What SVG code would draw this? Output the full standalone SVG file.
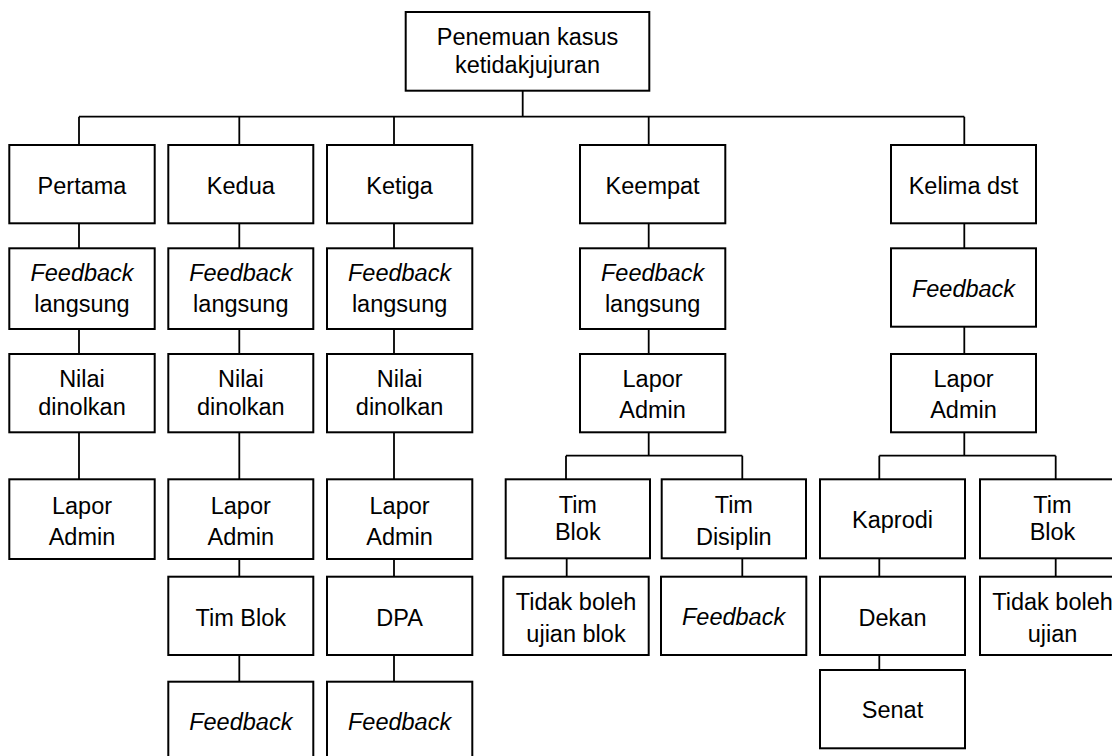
<svg xmlns="http://www.w3.org/2000/svg" width="1112" height="756" viewBox="0 0 1112 756">
<style>
rect{fill:#fff;stroke:#000;stroke-width:2}
#connectors path{fill:none;stroke:#000;stroke-width:1.8}
text{font-family:"Liberation Sans",Arial,sans-serif;font-size:23.5px;fill:#000;text-anchor:middle}
.i{font-style:italic}
</style>
<rect x="0" y="0" width="1112" height="756" style="stroke:none;fill:#fff"/>
<g id="connectors">
<path d="M522.7 90.7V116.7M79 116.7H964.3M79 116.7V145M239.3 116.7V145M394 116.7V145M648.7 116.7V145M964.3 116.7V145"/>
<path d="M79 223.3V248.3M79 329V354M79 432.3V479.3"/>
<path d="M239.3 223.3V248.3M239.3 329V354M239.3 432.3V479.3M239.3 559V576.7M239.3 655V681.7"/>
<path d="M394 223.3V248.3M394 329V354M394 432.3V479.3M394 559V576.7M394 655V681.7"/>
<path d="M648.7 223.3V248.3M648.7 329V354M648.7 432.3V455.7M566 455.7H742.3M566 455.7V479.3M742.3 455.7V479.3M566.7 558.3V576.7M742.3 558.3V576.7"/>
<path d="M964.3 223.3V248.3M964.3 326.7V354M964.3 432.3V455.7M879.3 455.7H1055.7M879.3 455.7V479.3M1055.7 455.7V479.3M879.3 558.3V576.7M879.3 655V670M1055.7 558.3V576.7"/>
</g>
<g id="root"><rect x="405.7" y="12" width="243.6" height="78.7"/><text x="527.5" y="44.5">Penemuan kasus</text><text x="527.5" y="72.5">ketidakjujuran</text></g>
<g id="pertama"><rect x="9.3" y="145" width="145.4" height="78.3"/><text x="82" y="194">Pertama</text></g>
<g id="kedua"><rect x="168.3" y="145" width="145" height="78.3"/><text x="240.8" y="194">Kedua</text></g>
<g id="ketiga"><rect x="327" y="145" width="145.3" height="78.3"/><text x="399.6" y="194">Ketiga</text></g>
<g id="keempat"><rect x="580" y="145" width="145.3" height="78.3"/><text x="652.6" y="194">Keempat</text></g>
<g id="kelima"><rect x="891" y="145" width="145" height="78.3"/><text x="963.5" y="194">Kelima dst</text></g>
<g id="fb1"><rect x="9.3" y="248.3" width="145.4" height="80.7"/><text x="82" y="280.7" class="i">Feedback</text><text x="82" y="311.7">langsung</text></g>
<g id="fb2"><rect x="168.3" y="248.3" width="145" height="80.7"/><text x="240.8" y="280.7" class="i">Feedback</text><text x="240.8" y="311.7">langsung</text></g>
<g id="fb3"><rect x="327" y="248.3" width="145.3" height="80.7"/><text x="399.6" y="280.7" class="i">Feedback</text><text x="399.6" y="311.7">langsung</text></g>
<g id="fb4"><rect x="580" y="248.3" width="145.3" height="80.7"/><text x="652.6" y="280.7" class="i">Feedback</text><text x="652.6" y="311.7">langsung</text></g>
<g id="fb5"><rect x="891" y="248.3" width="145" height="78.4"/><text x="963.5" y="296.7" class="i">Feedback</text></g>
<g id="nilai1"><rect x="9.3" y="354" width="145.4" height="78.3"/><text x="82" y="386.7">Nilai</text><text x="82" y="415">dinolkan</text></g>
<g id="nilai2"><rect x="168.3" y="354" width="145" height="78.3"/><text x="240.8" y="386.7">Nilai</text><text x="240.8" y="415">dinolkan</text></g>
<g id="nilai3"><rect x="327" y="354" width="145.3" height="78.3"/><text x="399.6" y="386.7">Nilai</text><text x="399.6" y="415">dinolkan</text></g>
<g id="lapor4"><rect x="580" y="354" width="145.3" height="78.3"/><text x="652.6" y="386.7">Lapor</text><text x="652.6" y="418.3">Admin</text></g>
<g id="lapor5"><rect x="891" y="354" width="145" height="78.3"/><text x="963.5" y="386.7">Lapor</text><text x="963.5" y="418.3">Admin</text></g>
<g id="lapor1"><rect x="9.3" y="479.3" width="145.4" height="79.7"/><text x="82" y="513.5">Lapor</text><text x="82" y="545">Admin</text></g>
<g id="lapor2"><rect x="168.3" y="479.3" width="145" height="79.7"/><text x="240.8" y="513.5">Lapor</text><text x="240.8" y="545">Admin</text></g>
<g id="lapor3"><rect x="327" y="479.3" width="145.3" height="79.7"/><text x="399.6" y="513.5">Lapor</text><text x="399.6" y="545">Admin</text></g>
<g id="timblok4"><rect x="505.7" y="479.3" width="144.3" height="79"/><text x="577.8" y="513">Tim</text><text x="577.8" y="540">Blok</text></g>
<g id="timdisiplin"><rect x="661.7" y="479.3" width="144.3" height="79"/><text x="733.8" y="513">Tim</text><text x="733.8" y="545">Disiplin</text></g>
<g id="kaprodi"><rect x="820" y="479.3" width="145" height="79"/><text x="892.5" y="528">Kaprodi</text></g>
<g id="timblok5"><rect x="980" y="479.3" width="145" height="79"/><text x="1052.5" y="513">Tim</text><text x="1052.5" y="540">Blok</text></g>
<g id="timblok2"><rect x="168.3" y="576.7" width="145" height="78.3"/><text x="240.8" y="626">Tim Blok</text></g>
<g id="dpa"><rect x="327" y="576.7" width="145.3" height="78.3"/><text x="399.6" y="626">DPA</text></g>
<g id="tidakboleh4"><rect x="503.3" y="576.7" width="145.4" height="78.3"/><text x="576" y="610">Tidak boleh</text><text x="576" y="641.7">ujian blok</text></g>
<g id="fb4b"><rect x="661" y="576.7" width="145.3" height="78.3"/><text x="733.6" y="625" class="i">Feedback</text></g>
<g id="dekan"><rect x="820" y="576.7" width="145" height="78.3"/><text x="892.5" y="626">Dekan</text></g>
<g id="tidakboleh5"><rect x="980" y="576.7" width="145" height="78.3"/><text x="1052.5" y="610">Tidak boleh</text><text x="1052.5" y="641.7">ujian</text></g>
<g id="fb2b"><rect x="168.3" y="681.7" width="145" height="80"/><text x="240.8" y="730" class="i">Feedback</text></g>
<g id="fb3b"><rect x="327" y="681.7" width="145.3" height="80"/><text x="399.6" y="730" class="i">Feedback</text></g>
<g id="senat"><rect x="820" y="670" width="145" height="78.3"/><text x="892.5" y="718.3">Senat</text></g>
</svg>
